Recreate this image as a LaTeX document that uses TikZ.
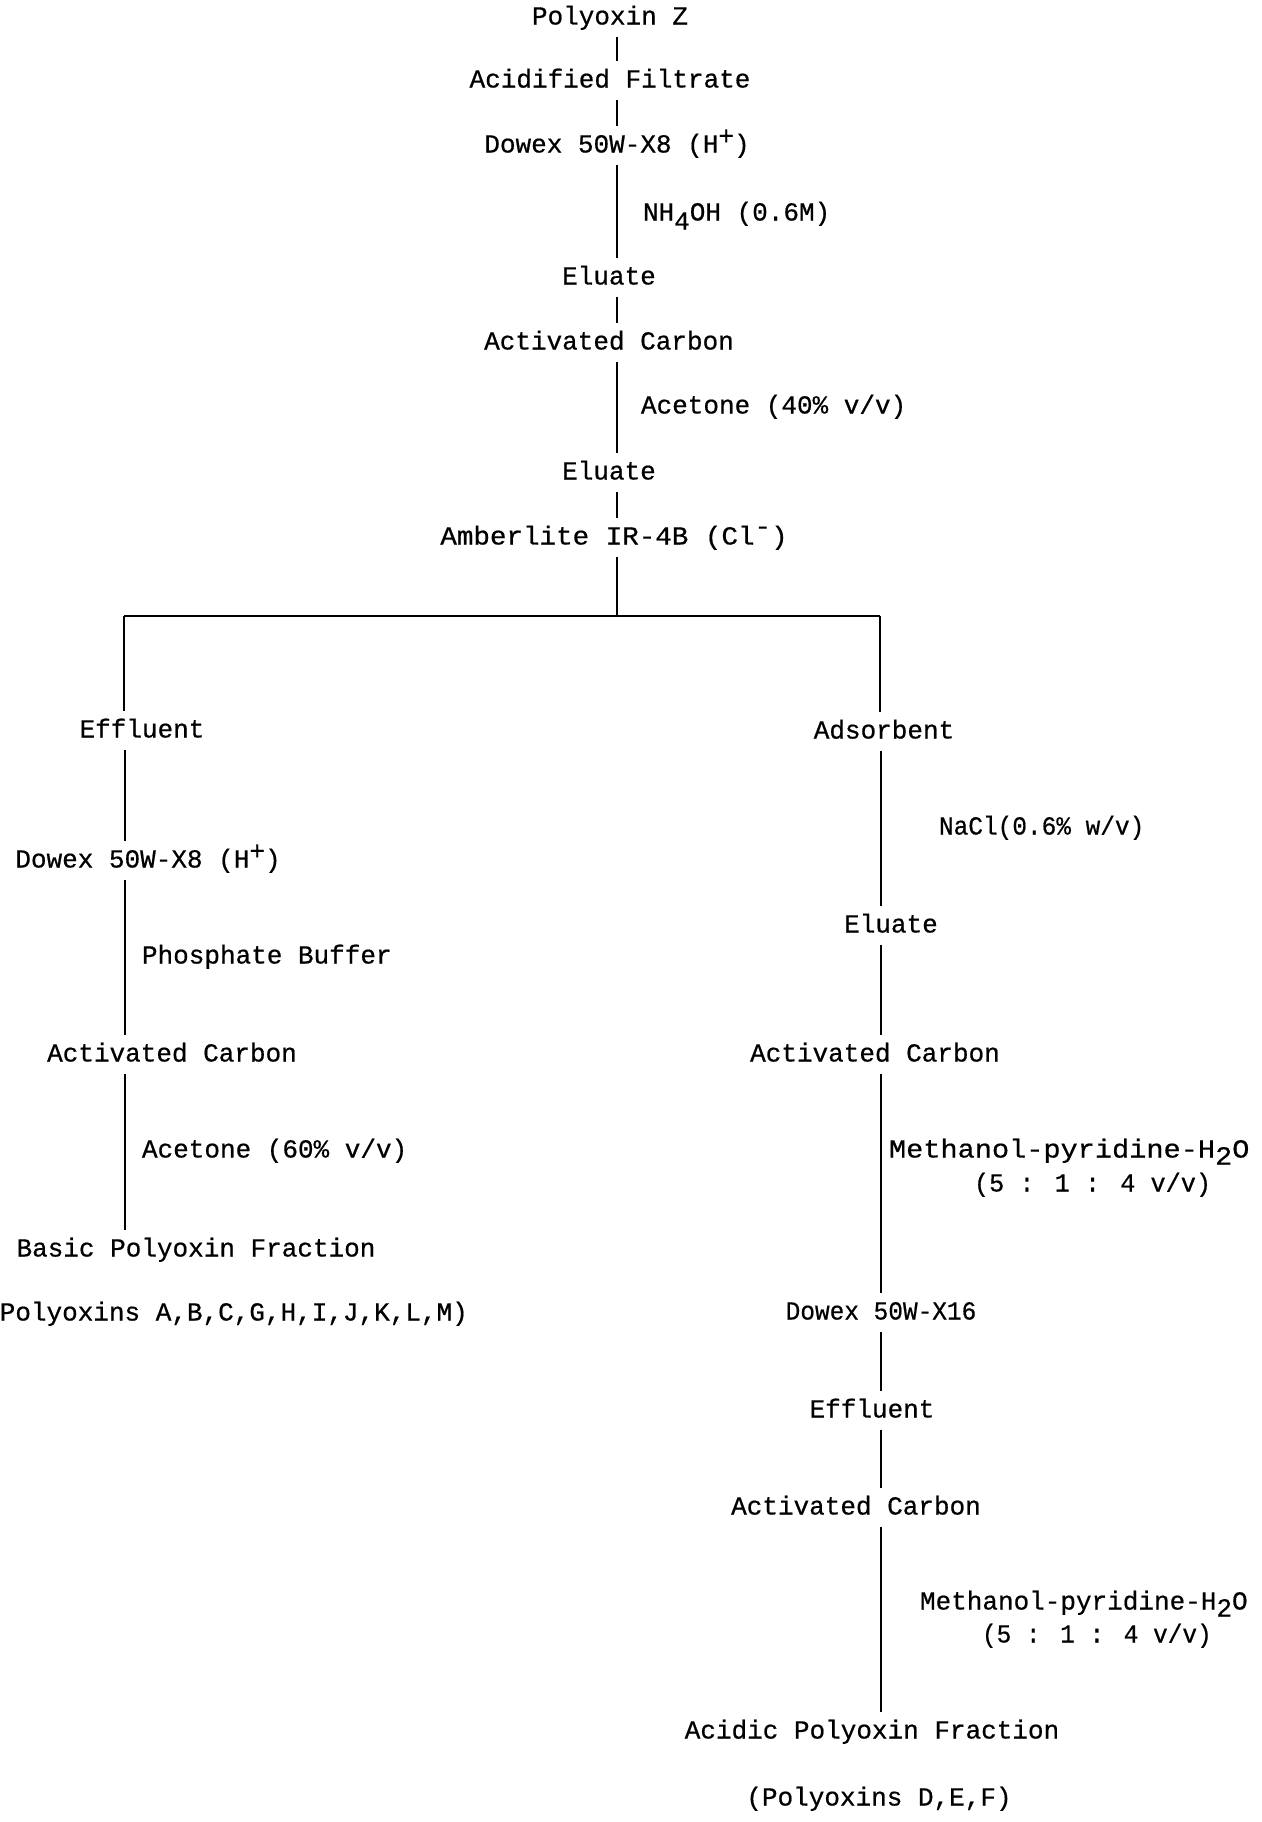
\documentclass[tikz,border=0pt]{standalone}
\usepackage{fontspec}
\usepackage{graphicx}
\newfontfamily\tw[FakeBold=0.6]{Liberation Mono}
\newcommand\tysup[1]{\raisebox{4pt}{#1}}
\newcommand\tysub[1]{\raisebox{-4.5pt}{#1}}
\newcommand\tysubb[1]{\raisebox{-3.5pt}{#1}}
\newcommand\tyhi[1]{\raisebox{5pt}{#1}}
\tikzset{
  stage/.style={font=\tw\fontsize{13pt}{15pt}\selectfont, text height=7.5pt,
    text depth=0pt, inner xsep=2pt, inner ysep=6pt, outer sep=0pt, anchor=center},
  lab/.style={stage, anchor=west, inner xsep=0pt},
  link/.style={line width=1.1pt, line cap=butt},
}
\begin{document}
\begin{tikzpicture}[x=0.5pt,y=-0.5pt]
\useasboundingbox (0,0) rectangle (1262,1822);
\fill[white] (0,0) rectangle (1262,1822);
% column guides
\coordinate (cM) at (617,0);
\coordinate (cL) at (125,0);
\coordinate (cR) at (881,0);
\coordinate (barM) at (617,616);
\coordinate (barL) at (124,616);
\coordinate (barR) at (880,616);

% main column
\node[stage] (pz)  at (610,17)  {Polyoxin Z};
\node[stage] (af)  at (610,80)  {Acidified Filtrate};
\node[stage] (dw)  at (617,145) {Dowex 50W-X8 (H\tysup{+})};
\node[stage] (el1) at (609,277) {Eluate};
\node[stage] (ac1) at (609,342) {Activated Carbon};
\node[stage] (el2) at (609,472) {Eluate};
\node[stage] (amb) at (614,537) {\scalebox{1.06}[1]{Amberlite IR-4B (Cl\tyhi{-})}};

\node[lab] (nh)  at (643,213) {NH\tysub{4}OH (0.6M)};
\node[lab] (ace1) at (641,406) {Acetone (40\% v/v)};

% left branch
\node[stage] (effL)  at (142,730)  {Effluent};
\node[stage] (dwL)   at (148,860)  {Dowex 50W-X8 (H\tysup{+})};
\node[stage] (acL)   at (172,1054) {Activated Carbon};
\node[stage] (basic) at (196,1249) {Basic Polyoxin Fraction};
\node[stage] (polyL) at (226,1313) {(Polyoxins A,B,C,G,H,I,J,K,L,M)};
\node[lab] (phos) at (142,956)  {Phosphate Buffer};
\node[lab] (ace2) at (142,1150) {Acetone (60\% v/v)};

% right branch
\node[stage] (ads)    at (884,731)  {Adsorbent};
\node[stage] (elR)    at (891,925)  {Eluate};
\node[stage] (acR)    at (875,1054) {Activated Carbon};
\node[stage] (dx16)   at (881,1312) {\scalebox{0.94}[1]{Dowex 50W-X16}};
\node[stage] (effR)   at (872,1410) {Effluent};
\node[stage] (acR2)   at (856,1507) {Activated Carbon};
\node[stage] (acidic) at (872,1731) {Acidic Polyoxin Fraction};
\node[stage] (polyR)  at (879,1798) {(Polyoxins D,E,F)};

\node[lab] (nacl) at (939,827) {\scalebox{0.94}[1]{NaCl(0.6\% w/v)}};
\node[lab] (meth1) at (889,1150) {\scalebox{1.1}[1]{Methanol-pyridine-H\tysubb{2}O}};
\node[lab] (rat1)  at (974,1184) {\scalebox{0.97}[1]{(5 : 1 : 4 v/v)}};
\node[lab] (meth2) at (920,1602) {Methanol-pyridine-H\tysubb{2}O};
\node[lab] (rat2)  at (982,1635) {\scalebox{0.94}[1]{(5 : 1 : 4 v/v)}};

% connectors: main column
\draw[link] (pz.south -| cM) -- (af.north -| cM);
\draw[link] (af.south -| cM) -- (dw.north -| cM);
\draw[link] (dw.south -| cM) -- (el1.north -| cM);
\draw[link] (el1.south -| cM) -- (ac1.north -| cM);
\draw[link] (ac1.south -| cM) -- (el2.north -| cM);
\draw[link] (el2.south -| cM) -- (amb.north -| cM);
\draw[link] (amb.south -| cM) -- (barM);
\draw[link] (barL) -- (barR);

% left branch
\draw[link] (barL) -- (effL.north -| barL);
\draw[link] (effL.south -| cL) -- (dwL.north -| cL);
\draw[link] (dwL.south -| cL) -- (acL.north -| cL);
\draw[link] (acL.south -| cL) -- (basic.north -| cL);

% right branch
\draw[link] (barR) -- (ads.north -| barR);
\draw[link] (ads.south -| cR) -- (elR.north -| cR);
\draw[link] (elR.south -| cR) -- (acR.north -| cR);
\draw[link] (acR.south -| cR) -- (dx16.north -| cR);
\draw[link] (dx16.south -| cR) -- (effR.north -| cR);
\draw[link] (effR.south -| cR) -- (acR2.north -| cR);
\draw[link] (acR2.south -| cR) -- (acidic.north -| cR);
\end{tikzpicture}
\end{document}
